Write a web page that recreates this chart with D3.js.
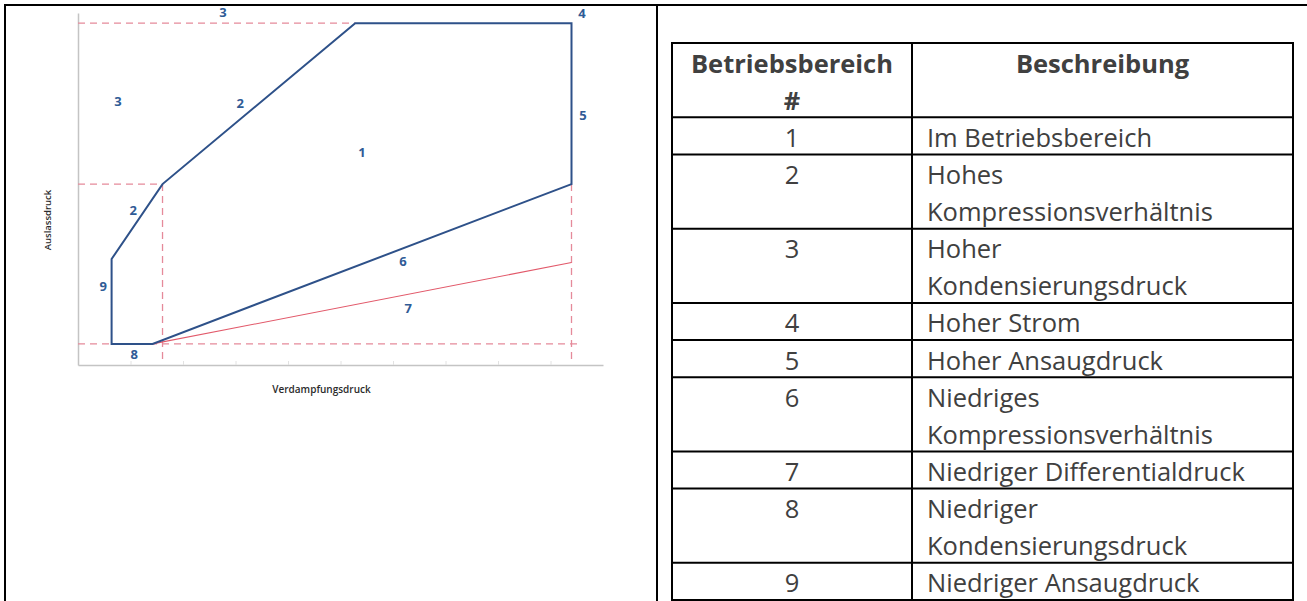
<!DOCTYPE html>
<html>
<head>
<meta charset="utf-8">
<script src="https://cdn.jsdelivr.net/npm/d3@7"></script>
<style>
  html, body { margin: 0; padding: 0; background: #fff; }
  svg { display: block; }
</style>
</head>
<body>
<svg id="chart" width="1307" height="601"></svg>
<script>
// ---------- Data ----------
// Operating envelope (x = Verdampfungsdruck, y = Auslassdruck), arbitrary units 0..100
const envelopeX = [6.4, 14.2, 94.0, 94.0, 52.8, 16.1, 6.4];
const envelopeY = [6.0, 6.0, 51.4, 97.1, 97.1, 51.4, 30.1];
// Low differential pressure line (region 7)
const lowDiffX = [14.2, 94.0];
const lowDiffY = [6.0, 29.1];
// Red dashed guide lines: [x1, y1, x2, y2]
const guideX1 = [0, 0, 0, 16.1, 94.0];
const guideY1 = [97.1, 51.4, 6.0, 51.4, 51.4];
const guideX2 = [52.8, 16.1, 95.6, 16.1, 94.0];
const guideY2 = [97.1, 51.4, 6.0, 0.5, 0.5];
// Region labels in the chart
const regionLabels = ["3", "4", "5", "1", "3", "2", "2", "9", "8", "6", "7"];
const regionLabelX = [27.6, 96.0, 96.2, 54.1, 7.6, 30.9, 10.5, 4.8, 10.7, 61.9, 62.9];
const regionLabelY = [100.3, 100.0, 71.0, 60.5, 75.0, 74.4, 44.0, 22.4, 3.1, 29.5, 16.2];
const xTicks = [10, 20, 30, 40, 50, 60, 70, 80, 90];
const xAxisTitle = "Verdampfungsdruck";
const yAxisTitle = "Auslassdruck";

// Table
const tableHeader1 = ["Betriebsbereich", "#"];
const tableHeader2 = ["Beschreibung"];
const tableNumbers = ["1", "2", "3", "4", "5", "6", "7", "8", "9"];
const tableDescriptions = [
  ["Im Betriebsbereich"],
  ["Hohes", "Kompressionsverhältnis"],
  ["Hoher", "Kondensierungsdruck"],
  ["Hoher Strom"],
  ["Hoher Ansaugdruck"],
  ["Niedriges", "Kompressionsverhältnis"],
  ["Niedriger Differentialdruck"],
  ["Niedriger", "Kondensierungsdruck"],
  ["Niedriger Ansaugdruck"]
];

// ---------- Drawing ----------
const svg = d3.select("#chart");
svg.append("rect").attr("width", 1307).attr("height", 601).attr("fill", "#fff");

// Outer frame
const frame = svg.append("g").attr("stroke", "#000").attr("stroke-width", 2);
frame.append("line").attr("x1", 4).attr("x2", 1307).attr("y1", 5).attr("y2", 5);
frame.append("line").attr("x1", 5).attr("x2", 5).attr("y1", 4).attr("y2", 601);
frame.append("line").attr("x1", 657).attr("x2", 657).attr("y1", 4).attr("y2", 601);

// Chart scales
const x = d3.scaleLinear().domain([0, 100]).range([78, 603]);
const y = d3.scaleLinear().domain([0, 100]).range([365, 13]);

const chart = svg.append("g");

// Axes
const xAxis = chart.append("g").attr("transform", `translate(0,${y(0)})`)
  .call(d3.axisBottom(x).tickValues(xTicks).tickFormat("").tickSizeInner(-4).tickSizeOuter(0));
xAxis.select(".domain").attr("stroke", "#c4c4c4").attr("stroke-width", 1.5);
xAxis.selectAll(".tick line").attr("stroke", "#e2e2e2").attr("stroke-width", 1);

const yAxis = chart.append("g").attr("transform", `translate(${x(0)},0)`)
  .call(d3.axisLeft(y).tickValues([]).tickSizeOuter(0));
yAxis.select(".domain").attr("stroke", "#c4c4c4").attr("stroke-width", 1.5);

// Guide lines (red dashed)
chart.append("g").selectAll("line").data(guideX1).join("line")
  .attr("x1", (d, i) => x(guideX1[i]))
  .attr("y1", (d, i) => y(guideY1[i]))
  .attr("x2", (d, i) => x(guideX2[i]))
  .attr("y2", (d, i) => y(guideY2[i]))
  .attr("stroke", "#e58a9a")
  .attr("stroke-width", 1.3)
  .attr("stroke-dasharray", "7,5");

// Low differential line
const line = d3.line().x(d => x(d[0])).y(d => y(d[1]));
chart.append("path")
  .attr("d", line(lowDiffX.map((v, i) => [v, lowDiffY[i]])))
  .attr("fill", "none").attr("stroke", "#e2596a").attr("stroke-width", 1.1);

// Envelope polygon
chart.append("path")
  .attr("d", line(envelopeX.map((v, i) => [v, envelopeY[i]])) + "Z")
  .attr("fill", "none").attr("stroke", "#2e5189").attr("stroke-width", 2)
  .attr("stroke-linejoin", "miter");

// Region labels
chart.append("g").selectAll("text").data(regionLabels).join("text")
  .attr("x", (d, i) => x(regionLabelX[i]))
  .attr("y", (d, i) => y(regionLabelY[i]))
  .attr("text-anchor", "middle")
  .attr("dominant-baseline", "central")
  .attr("font-family", "'Open Sans', sans-serif")
  .attr("font-weight", 700)
  .attr("font-size", 13)
  .attr("fill", "#2f5b96")
  .text(d => d);

// Axis titles
chart.append("text")
  .attr("x", 321.5)
  .attr("y", 389)
  .attr("text-anchor", "middle")
  .attr("dominant-baseline", "central")
  .attr("font-family", "'Open Sans', sans-serif")
  .attr("font-weight", 600)
  .attr("font-size", 10)
  .attr("fill", "#2b2b2b")
  .text(xAxisTitle);

chart.append("text")
  .attr("transform", `translate(47.5,${(y(0) + y(100)) / 2 + 31}) rotate(-90)`)
  .attr("text-anchor", "middle")
  .attr("dominant-baseline", "central")
  .attr("font-family", "'Open Sans', sans-serif")
  .attr("font-weight", 600)
  .attr("font-size", 9.5)
  .attr("fill", "#2b2b2b")
  .text(yAxisTitle);

// ---------- Table ----------
const colX = [672, 912, 1293];
const lineH = 37.13;
const tableTop = 43;
const rowLines = [tableHeader1.length].concat(tableDescriptions.map(d => d.length));
const rowY = [tableTop];
rowLines.forEach(n => rowY.push(rowY[rowY.length - 1] + n * lineH));

const table = svg.append("g")
  .attr("font-family", "'Open Sans', sans-serif")
  .attr("font-size", 25.5)
  .attr("fill", "#404040");

// Borders
const tb = table.append("g").attr("stroke", "#000").attr("stroke-width", 2);
rowY.forEach(yy => tb.append("line").attr("x1", colX[0] - 1).attr("x2", colX[2] + 1).attr("y1", yy).attr("y2", yy));
colX.forEach(xx => tb.append("line").attr("x1", xx).attr("x2", xx).attr("y1", rowY[0] - 1).attr("y2", rowY[rowY.length - 1] + 1));

const baseOff = 29.5;
// Header
tableHeader1.forEach((t, i) => {
  table.append("text").attr("x", (colX[0] + colX[1]) / 2).attr("y", rowY[0] + i * lineH + baseOff)
    .attr("text-anchor", "middle").attr("font-weight", 700).text(t);
});
tableHeader2.forEach((t, i) => {
  table.append("text").attr("x", (colX[1] + colX[2]) / 2).attr("y", rowY[0] + i * lineH + baseOff)
    .attr("text-anchor", "middle").attr("font-weight", 700).text(t);
});
// Rows
tableNumbers.forEach((n, r) => {
  const top = rowY[r + 1];
  table.append("text").attr("x", (colX[0] + colX[1]) / 2).attr("y", top + baseOff)
    .attr("text-anchor", "middle").text(n);
  tableDescriptions[r].forEach((t, i) => {
    table.append("text").attr("x", colX[1] + 15).attr("y", top + i * lineH + baseOff).text(t);
  });
});
</script>
</body>
</html>
